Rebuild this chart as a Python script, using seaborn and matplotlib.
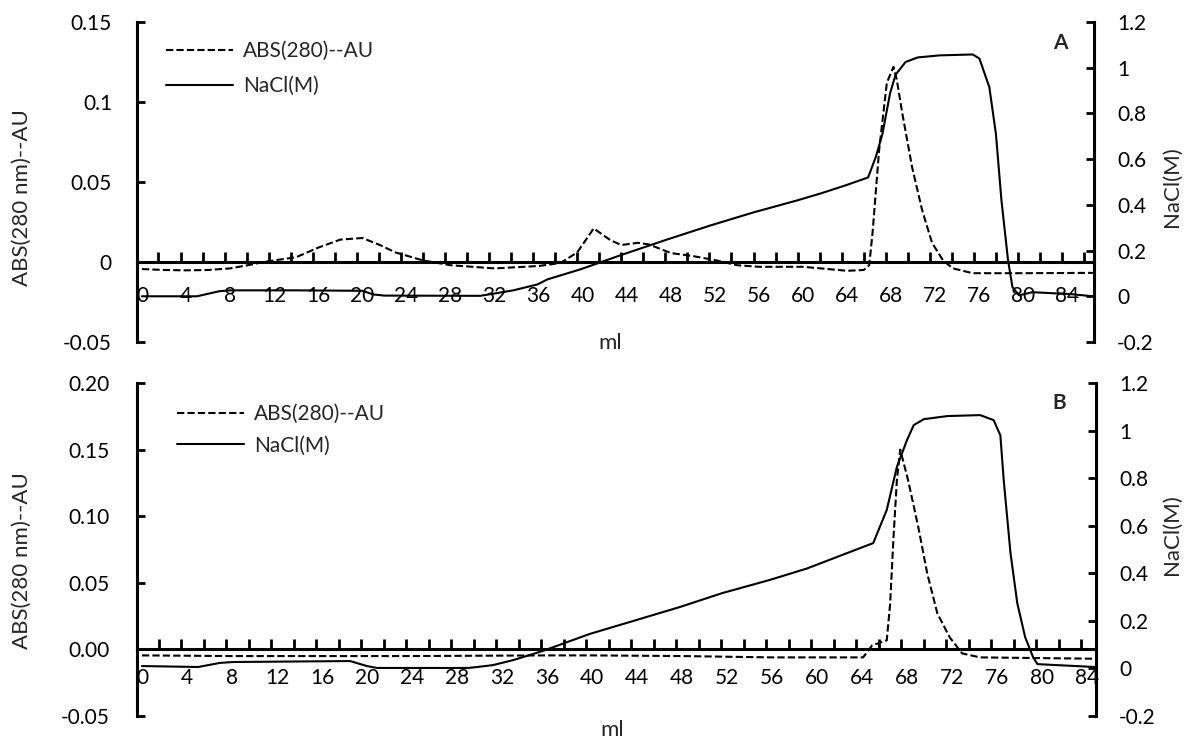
import matplotlib
matplotlib.use('Agg')
import matplotlib.pyplot as plt
import seaborn as sns
import pandas as pd
from matplotlib.lines import Line2D
from matplotlib.ticker import FixedLocator, NullFormatter

sns.set_theme(style='white')
plt.rcParams['font.family'] = ['Lato', 'DejaVu Sans']

# ---------------- data: panel A ----------------
a_abs_ml = [0, 2, 4, 6, 8, 10, 11, 13, 14, 16, 18, 20, 21.6, 23, 25.5, 28, 32, 36, 38, 39.5,
            41, 42.5, 43.5, 45, 46, 48, 50, 52, 54, 56, 60, 64, 65.5, 66, 66.3, 66.9, 67.6,
            68.2, 68.5, 69.0, 69.9, 70.8, 71.7, 72.7, 73.6, 75.4, 80, 86.3]
a_abs = [-0.0044, -0.005, -0.0052, -0.005, -0.004, -0.0015, 0.0, 0.002, 0.003, 0.009, 0.014,
         0.015, 0.0106, 0.006, 0.001, -0.002, -0.004, -0.0025, -0.0006, 0.006, 0.021, 0.0137,
         0.0106, 0.012, 0.011, 0.0056, 0.0037, 0.0012, -0.002, -0.003, -0.003, -0.0055, -0.005,
         -0.002, 0.018, 0.07, 0.112, 0.122, 0.114, 0.093, 0.059, 0.0325, 0.012, 0.001, -0.004,
         -0.007, -0.007, -0.0068]
a_nacl_ml = [0, 5, 7, 8, 14, 20, 21, 22, 30.7, 32.1, 33.7, 35.9, 36.8, 39.8, 43.7, 47.7, 51.6,
             55.5, 59.5, 61.6, 63.9, 65.9, 66.6, 67.2, 67.9, 68.4, 69.3, 70.4, 72.4, 75.4, 76.0,
             76.9, 77.5, 78.0, 78.6, 79.0, 79.6, 80.8, 84.4, 86.3]
a_nacl = [0.0, 0.0, 0.022, 0.026, 0.026, 0.024, 0.008, 0.003, 0.002, 0.013, 0.026, 0.052, 0.074,
          0.118, 0.184, 0.249, 0.31, 0.367, 0.42, 0.45, 0.486, 0.52, 0.61, 0.71, 0.89, 0.97,
          1.025, 1.045, 1.054, 1.058, 1.04, 0.915, 0.71, 0.42, 0.157, 0.04, 0.004, 0.018, 0.009,
          0.0]

# ---------------- data: panel B ----------------
b_abs_ml = [0, 8, 24, 36, 40, 48, 56, 60, 64.1, 64.9, 66.2, 66.5, 66.8, 67.1, 67.4, 68.1, 69.0,
            69.8, 70.7, 71.8, 72.9, 74.5, 84.7]
b_abs = [-0.0045, -0.005, -0.005, -0.0045, -0.0045, -0.005, -0.006, -0.006, -0.006, 0.003,
         0.0068, 0.034, 0.084, 0.127, 0.15, 0.127, 0.092, 0.057, 0.027, 0.009, -0.003, -0.006,
         -0.007]
b_nacl_ml = [0, 5, 6.9, 8.1, 18.5, 20.0, 20.9, 29, 29.8, 31.2, 33.0, 35.6, 39.8, 43.7, 47.8,
             51.6, 55.8, 59.1, 65.0, 66.2, 67.1, 68.0, 68.6, 69.5, 71.6, 74.5, 75.7, 76.3, 76.6,
             77.2, 77.8, 78.5, 79.2, 79.6, 84.7]
b_nacl = [0.01, 0.006, 0.023, 0.027, 0.031, 0.01, 0.002, 0.002, 0.006, 0.014, 0.035, 0.073,
          0.145, 0.2, 0.258, 0.317, 0.372, 0.42, 0.527, 0.666, 0.847, 0.96, 1.023, 1.048, 1.061,
          1.065, 1.044, 0.98, 0.79, 0.485, 0.275, 0.132, 0.048, 0.018, 0.006]

x_labels = list(range(0, 85, 4))
a_left_ticks = [-0.05, 0, 0.05, 0.1, 0.15]
a_left_labels = ['-0.05', '0', '0.05', '0.1', '0.15']
b_left_ticks = [-0.05, 0.0, 0.05, 0.10, 0.15, 0.20]
b_left_labels = ['-0.05', '0.00', '0.05', '0.10', '0.15', '0.20']
right_ticks = [-0.2, 0, 0.2, 0.4, 0.6, 0.8, 1.0, 1.2]
right_labels = ['-0.2', '0', '0.2', '0.4', '0.6', '0.8', '1', '1.2']

W, H = 1191, 742
fig = plt.figure(figsize=(W / 100, H / 100), dpi=100)

FS = 15
LW = 1.5
DASH = (3.5, 1.5)


def px(x0, y0, x1, y1):
    return [x0 / W, 1 - y1 / H, (x1 - x0) / W, (y1 - y0) / H]


def panel(rect, abs_ml, abs_v, nacl_ml, nacl_v, ylim, lticks, llabels, xlim, xpad,
          lpad, letter, letter_xy, leg_xy, leg_sp, ylab_y, nacl_lab_y, ml_xy):
    ax = fig.add_axes(rect)
    ax2 = ax.twinx()
    df1 = pd.DataFrame({'ml': abs_ml, 'v': abs_v})
    df2 = pd.DataFrame({'ml': nacl_ml, 'v': nacl_v})
    sns.lineplot(data=df1, x='ml', y='v', ax=ax, color='black', lw=LW,
                 linestyle='--', dashes=False, sort=False)
    ax.lines[-1].set_dashes(DASH)
    sns.lineplot(data=df2, x='ml', y='v', ax=ax2, color='black', lw=LW, sort=False)
    ax.set_xlim(*xlim)
    ax.set_ylim(*ylim)
    ax2.set_ylim(-0.2, 1.2)
    ax.set_xlabel('')
    ax.set_ylabel('')
    ax2.set_ylabel('')
    for s in ['top', 'right']:
        ax.spines[s].set_visible(False)
    for s in ['top', 'left', 'bottom']:
        ax2.spines[s].set_visible(False)
    ax.spines['bottom'].set_position(('data', 0))
    for s in [ax.spines['left'], ax.spines['bottom'], ax2.spines['right']]:
        s.set_linewidth(2.2)
        s.set_color('black')
    ax.set_yticks(lticks)
    ax.set_yticklabels(llabels)
    ax.tick_params(axis='y', direction='in', length=6, width=2, pad=lpad,
                   labelsize=FS, colors='black', left=True)
    ax2.set_yticks(right_ticks)
    ax2.set_yticklabels(right_labels)
    ax2.tick_params(axis='y', direction='in', length=6, width=2, pad=16.5,
                    labelsize=FS, colors='black', right=True)
    ax.set_xticks(x_labels)
    ax.set_xticklabels([str(v) for v in x_labels])
    minors = [1.5 + 2 * k for k in range(60) if 1.5 + 2 * k < xlim[1]]
    ax.xaxis.set_minor_locator(FixedLocator(minors))
    ax.xaxis.set_minor_formatter(NullFormatter())
    ax.tick_params(axis='x', which='major', length=0, pad=xpad, labelsize=FS, colors='black',
                   bottom=True)
    ax.tick_params(axis='x', which='minor', direction='in', length=7, width=2, bottom=True,
                   color='black')
    ax.grid(False)
    ax2.grid(False)
    handles = [Line2D([], [], color='black', lw=LW, linestyle='--', dashes=DASH),
               Line2D([], [], color='black', lw=LW)]
    ax2.legend(handles, ['ABS(280)--AU', 'NaCl(M)'], loc='upper left',
               bbox_to_anchor=(leg_xy[0] / W, 1 - leg_xy[1] / H), bbox_transform=fig.transFigure,
               frameon=False, borderpad=0, borderaxespad=0, handlelength=3.2,
               handletextpad=0.48, labelspacing=leg_sp, fontsize=FS)
    fig.text(letter_xy[0] / W, 1 - letter_xy[1] / H, letter, fontsize=FS, fontweight='bold',
             ha='center', va='center')
    fig.text(22 / W, 1 - ylab_y / H, 'ABS(280 nm)--AU', rotation=90, fontsize=16,
             ha='center', va='center')
    fig.text(1172 / W, 1 - nacl_lab_y / H, 'NaCl(M)', rotation=90, fontsize=16,
             ha='center', va='center')
    fig.text(ml_xy[0] / W, 1 - ml_xy[1] / H, 'ml', fontsize=16, ha='center', va='center')


panel(px(137, 22, 1094, 342), a_abs_ml, a_abs, a_nacl_ml, a_nacl, (-0.05, 0.15),
      a_left_ticks, a_left_labels, (-0.45, 86.4), 17, 18, 'A', (1060, 43), (166, 41), 0.72,
      198, 187, (610, 343))
panel(px(137, 383, 1096, 716), b_abs_ml, b_abs, b_nacl_ml, b_nacl, (-0.05, 0.20),
      b_left_ticks, b_left_labels, (-0.44, 84.8), 13.5, 20, 'B', (1059, 403), (177, 404), 0.55,
      561, 535, (612, 730))

fig.savefig('out.png', dpi=100)
